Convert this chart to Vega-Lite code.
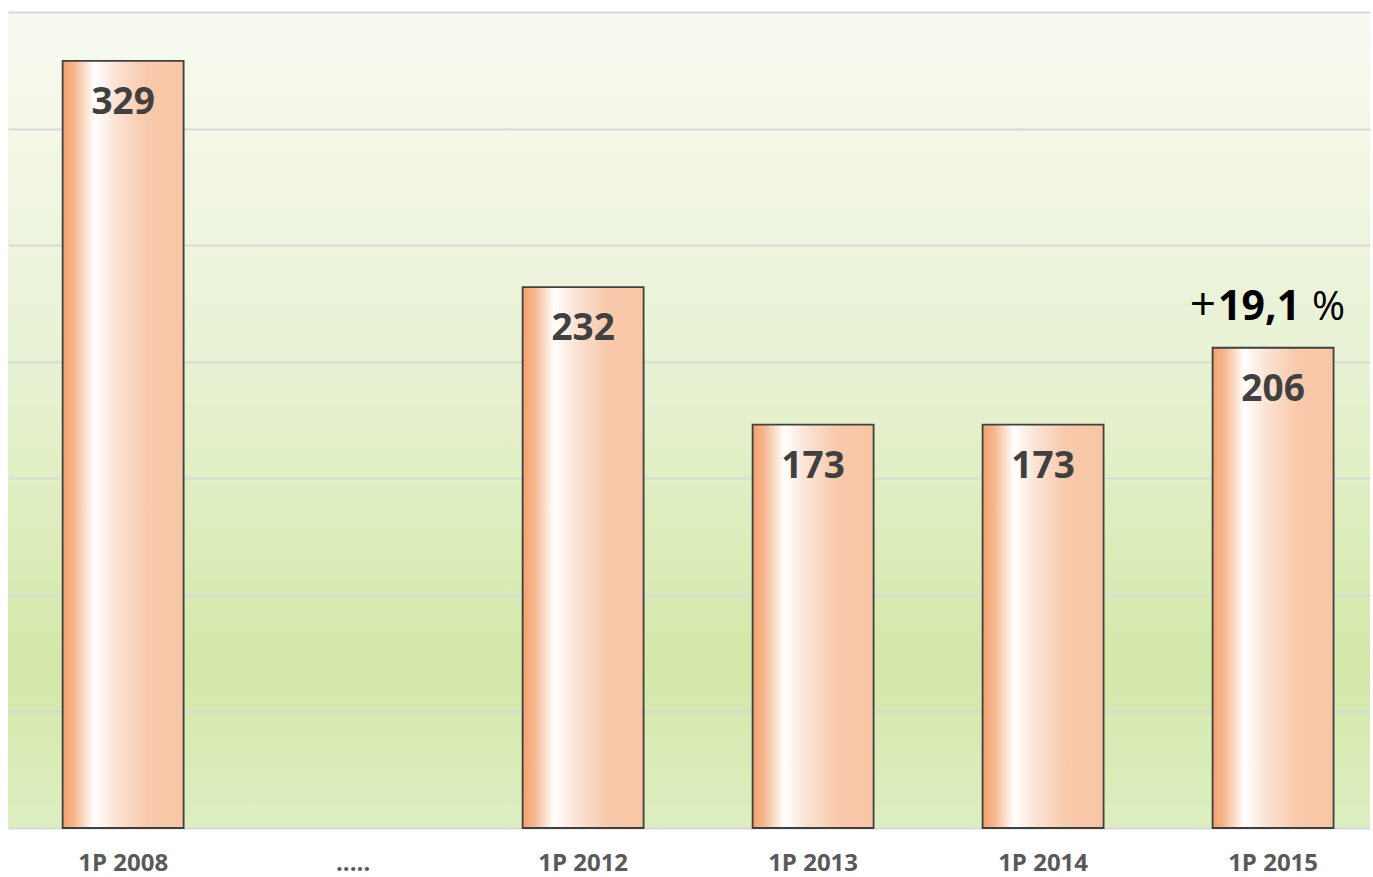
{
  "$schema": "https://vega.github.io/schema/vega-lite/v6.json",
  "width": 1362,
  "height": 816,
  "autosize": "none",
  "padding": {"left": 8, "top": 12, "right": 3, "bottom": 49},
  "background": "white",
  "config": {
    "view": {
      "stroke": null,
      "fill": {
        "gradient": "linear", "x1": 0, "y1": 0, "x2": 0, "y2": 1,
        "stops": [
          {"offset": 0, "color": "#f8faf1"},
          {"offset": 0.45, "color": "#e7f2d2"},
          {"offset": 0.8, "color": "#d3e8a9"},
          {"offset": 1, "color": "#ddeec1"}
        ]
      }
    }
  },
  "data": {
    "values": [
      {"period": "1P 2008", "value": 329, "change": ""},
      {"period": "1P 2012", "value": 232, "change": ""},
      {"period": "1P 2013", "value": 173, "change": ""},
      {"period": "1P 2014", "value": 173, "change": ""},
      {"period": "1P 2015", "value": 206, "change": "19,1"}
    ]
  },
  "encoding": {
    "x": {
      "field": "period", "type": "nominal", "sort": null,
      "scale": {"domain": ["1P 2008", ".....", "1P 2012", "1P 2013", "1P 2014", "1P 2015"], "paddingInner": 0.474, "paddingOuter": 0.198, "align": 0.6},
      "axis": {"title": null, "domain": false, "ticks": false, "labelAngle": 0, "labelFont": "Open Sans", "labelFontWeight": "bold", "labelFontSize": 24, "labelColor": "#595959", "labelPadding": 23}
    },
    "y": {
      "field": "value", "type": "quantitative",
      "scale": {"domain": [0, 350], "nice": false},
      "axis": {"title": null, "domain": false, "ticks": false, "labels": false, "grid": true, "gridColor": "#d9d9d9", "gridWidth": 2, "values": [0, 50, 100, 150, 200, 250, 300, 350]}
    }
  },
  "layer": [
    {
      "mark": {
        "type": "bar",
        "stroke": "#404040",
        "strokeWidth": 1.8,
        "fill": {
          "gradient": "linear", "x1": 0, "y1": 0, "x2": 1, "y2": 0,
          "stops": [
            {"offset": 0, "color": "#f3a06c"},
            {"offset": 0.1, "color": "#f6b890"},
            {"offset": 0.26, "color": "#ffffff"},
            {"offset": 0.45, "color": "#fbe2d3"},
            {"offset": 0.7, "color": "#f8c9aa"},
            {"offset": 1, "color": "#f8c6a4"}
          ]
        }
      }
    },
    {
      "mark": {"type": "text", "baseline": "top", "dy": 24, "font": "Open Sans", "fontWeight": "bold", "fontSize": 37, "color": "#404040"},
      "encoding": {"text": {"field": "value", "type": "quantitative"}}
    },
    {
      "transform": [{"filter": "datum.change != ''"}],
      "mark": {"type": "text", "baseline": "alphabetic", "align": "center", "dx": -14, "dy": -28, "font": "Open Sans", "fontWeight": "bold", "fontSize": 41, "color": "#000000"},
      "encoding": {"text": {"field": "change", "type": "nominal"}}
    },
    {
      "transform": [{"filter": "datum.change != ''"}],
      "mark": {"type": "text", "baseline": "alphabetic", "align": "right", "dx": -57, "dy": -28, "font": "Open Sans", "fontWeight": "normal", "fontSize": 46, "color": "#000000"},
      "encoding": {"text": {"value": "+"}}
    },
    {
      "transform": [{"filter": "datum.change != ''"}],
      "mark": {"type": "text", "baseline": "alphabetic", "align": "left", "dx": 39, "dy": -28, "font": "Open Sans", "fontWeight": "normal", "fontSize": 40, "color": "#000000"},
      "encoding": {"text": {"value": "%"}}
    }
  ]
}
